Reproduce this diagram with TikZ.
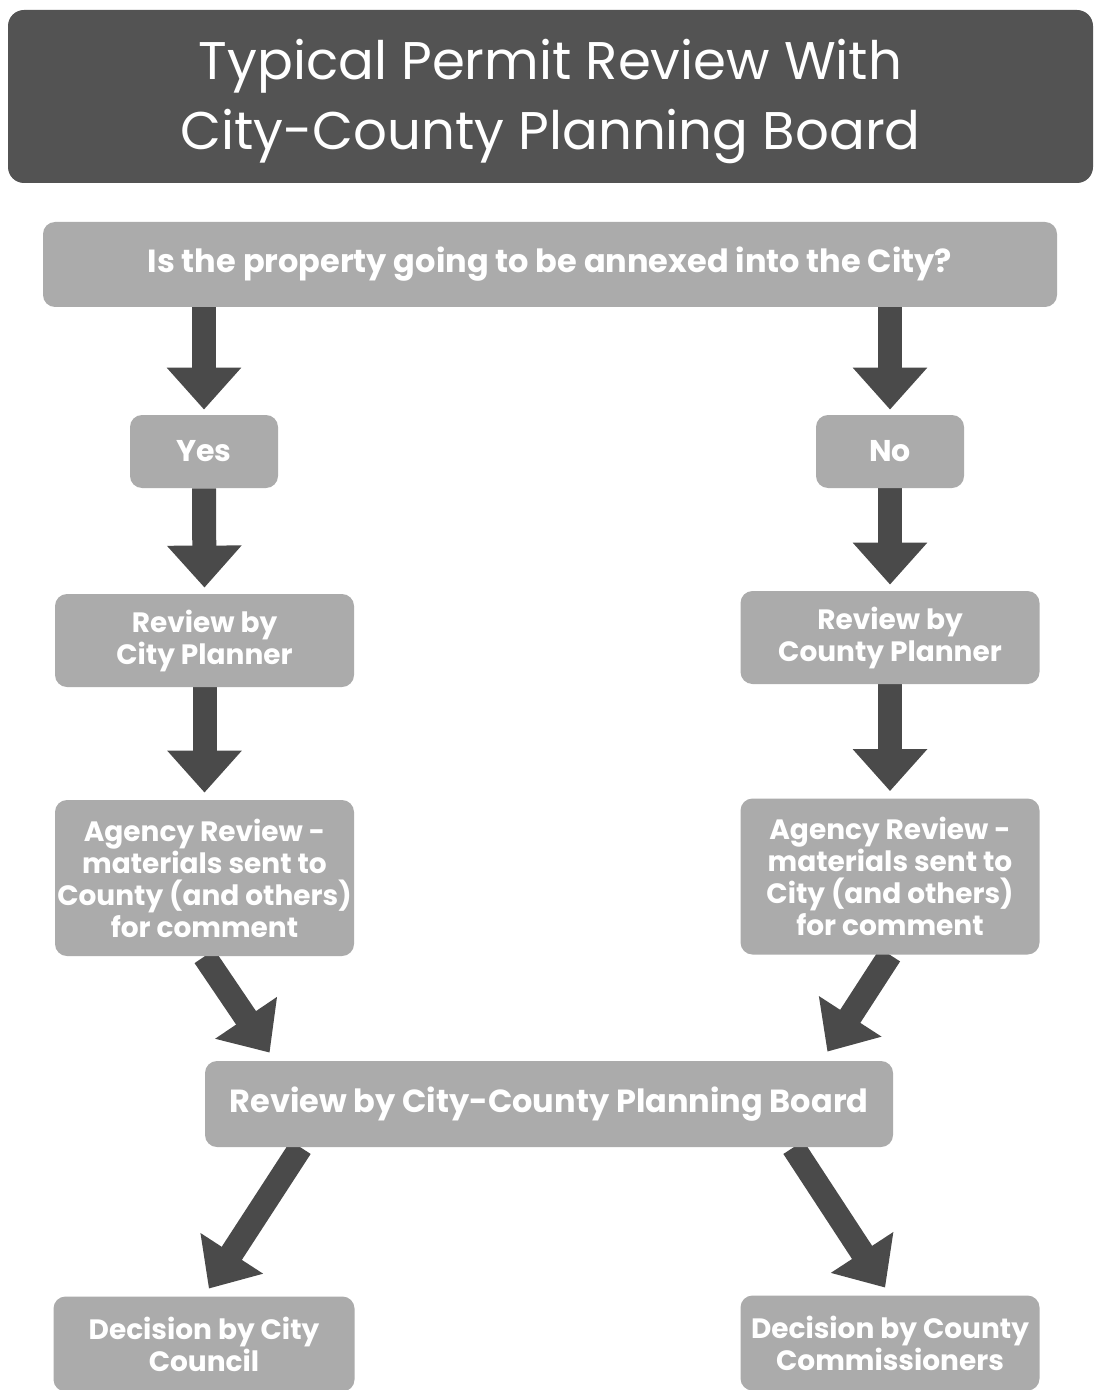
\documentclass[tikz,border=0pt]{standalone}
\usepackage{fontspec}
\setmainfont{Poppins}
\usetikzlibrary{arrows.meta,calc,backgrounds}

\definecolor{titlegray}{HTML}{535353}
\definecolor{boxgray}{HTML}{ABABAB}
\definecolor{arrowgray}{HTML}{4A4A4A}

\def \boxText {\fontsize{14}{16}\selectfont\bfseries}
\def \wideText {\fontsize{16}{18}\selectfont\bfseries}
\def \titleText {\fontsize{26.5}{35}\selectfont}

\tikzset{
  box/.style={fill=boxgray, rounded corners=6pt, text=white, align=center, inner sep=0pt, font=\boxText},
  sidebox/.style={box, minimum width=149.5pt, minimum height=46.5pt},
  flow/.style={draw=arrowgray, line width=12pt, -{Triangle[width=36pt,length=21pt]}}
}

\begin{document}
\begin{tikzpicture}[x=0.5pt,y=-0.5pt]
\useasboundingbox (0,0) rectangle (1094,1390);

\fill[titlegray, rounded corners=8pt] (8,10) rectangle (1093,183);
\node[text=white, align=center, font=\titleText] (title) at (550.5,101) {Typical Permit Review With\\City-County Planning Board};

\node[box, minimum width=507pt, minimum height=42.5pt, font=\wideText] (question) at (550,264.5) {Is the property going to be annexed into the City?};

\node[box, minimum width=74pt, minimum height=36.5pt, font=\fontsize{15}{17}\selectfont\bfseries] (yes) at (204,451.5) {Yes};
\node[box, minimum width=74pt, minimum height=36.5pt, font=\fontsize{15}{17}\selectfont\bfseries] (no) at (890,451.5) {No};

\node[sidebox] (cityPlanner) at (204.5,640.5) {Review by\\City Planner};
\node[sidebox] (countyPlanner) at (890,637.5) {Review by\\County Planner};

\node[sidebox, minimum height=78pt] (cityAgency) at (204.5,878) {Agency Review -\\materials sent to\\County (and others)\\for comment};
\node[sidebox, minimum height=78pt] (countyAgency) at (890,876.5) {Agency Review -\\materials sent to\\City (and others)\\for comment};

\node[box, minimum width=344pt, minimum height=43pt, font=\wideText] (board) at (549,1104) {Review by City-County Planning Board};

\node[sidebox, minimum width=150.5pt, minimum height=47.5pt] (council) at (204,1344) {Decision by City\\Council};
\node[sidebox, minimum height=47.5pt] (commissioners) at (890,1343) {Decision by County\\Commissioners};

\coordinate (boardInL) at ($(board.north west)+(65,-8)$);
\coordinate (boardInR) at ($(board.north east)+(-66,-9)$);
\coordinate (boardOutL) at ($(board.south west)+(96,0)$);
\coordinate (boardOutR) at ($(board.south east)+(-100,0)$);

\begin{scope}[on background layer]
\draw[flow, shorten >=2.5pt] (yes.north |- question.south) -- (yes.north);
\draw[flow, shorten >=2.5pt] (no.north |- question.south) -- (no.north);
\draw[flow, shorten >=3pt] (yes.south) -- (cityPlanner.north);
\draw[flow, shorten >=3pt] (no.south) -- (countyPlanner.north);
\draw[flow, shorten >=3.5pt] (cityPlanner.south) -- (cityAgency.north);
\draw[flow, shorten >=3.5pt] (countyPlanner.south) -- (countyAgency.north);
\draw[flow] (cityAgency.south) -- (boardInL);
\draw[flow] (countyAgency.south) -- (boardInR);
\draw[flow, shorten >=4.5pt] (boardOutL) -- (council.north);
\draw[flow, shorten >=4.5pt] (boardOutR) -- (commissioners.north);
\end{scope}
\end{tikzpicture}
\end{document}
